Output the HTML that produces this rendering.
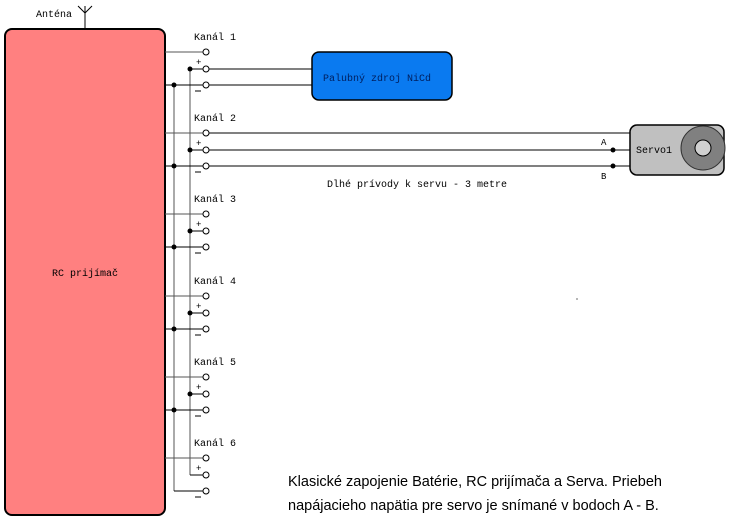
<!DOCTYPE html>
<html><head><style>body{margin:0;background:#fff}svg{display:block}</style></head><body>
<svg width="740" height="530" viewBox="0 0 740 530" xmlns="http://www.w3.org/2000/svg">
<rect width="740" height="530" fill="#fff"/>
<line x1="85" y1="6" x2="85" y2="29" stroke="#000"/>
<polyline points="78,6 85,13 92,6" fill="none" stroke="#000"/>
<text x="36" y="17" font-family="Liberation Mono,monospace" font-size="10">Anténa</text>
<rect x="5" y="29" width="160" height="486" rx="7" fill="#ff8080" stroke="#000" stroke-width="2"/>
<text x="52" y="276" font-family="Liberation Mono,monospace" font-size="10">RC prijímač</text>
<line x1="190" y1="69" x2="190" y2="475" stroke="#555"/>
<line x1="174" y1="85" x2="174" y2="491" stroke="#555"/>
<g font-family="Liberation Mono,monospace" font-size="10">
<text x="194" y="40">Kanál 1</text><text x="194" y="121">Kanál 2</text><text x="194" y="202">Kanál 3</text>
<text x="194" y="284">Kanál 4</text><text x="194" y="365">Kanál 5</text><text x="194" y="446">Kanál 6</text>
</g>
<g stroke="#555">
<line x1="165" y1="52" x2="203" y2="52"/><line x1="165" y1="133" x2="203" y2="133"/><line x1="165" y1="214" x2="203" y2="214"/>
<line x1="165" y1="296" x2="203" y2="296"/><line x1="165" y1="377" x2="203" y2="377"/><line x1="165" y1="458" x2="203" y2="458"/>
</g>
<g stroke="#000">
<line x1="190" y1="69" x2="203" y2="69"/><line x1="190" y1="150" x2="203" y2="150"/><line x1="190" y1="231" x2="203" y2="231"/>
<line x1="190" y1="313" x2="203" y2="313"/><line x1="190" y1="394" x2="203" y2="394"/><line x1="190" y1="475" x2="203" y2="475"/>
<line x1="165" y1="85" x2="203" y2="85"/><line x1="165" y1="166" x2="203" y2="166"/><line x1="165" y1="247" x2="203" y2="247"/>
<line x1="165" y1="329" x2="203" y2="329"/><line x1="165" y1="410" x2="203" y2="410"/><line x1="174" y1="491" x2="203" y2="491"/>
<line x1="195" y1="91" x2="201" y2="91"/><line x1="195" y1="172" x2="201" y2="172"/><line x1="195" y1="253" x2="201" y2="253"/>
<line x1="195" y1="335" x2="201" y2="335"/><line x1="195" y1="416" x2="201" y2="416"/><line x1="195" y1="497" x2="201" y2="497"/>
</g>
<g font-family="Liberation Mono,monospace" font-size="9">
<text x="196" y="65">+</text><text x="196" y="146">+</text><text x="196" y="227">+</text>
<text x="196" y="309">+</text><text x="196" y="390">+</text><text x="196" y="471">+</text>
</g>
<g fill="#fff" stroke="#000">
<circle cx="206" cy="52" r="3"/><circle cx="206" cy="69" r="3"/><circle cx="206" cy="85" r="3"/>
<circle cx="206" cy="133" r="3"/><circle cx="206" cy="150" r="3"/><circle cx="206" cy="166" r="3"/>
<circle cx="206" cy="214" r="3"/><circle cx="206" cy="231" r="3"/><circle cx="206" cy="247" r="3"/>
<circle cx="206" cy="296" r="3"/><circle cx="206" cy="313" r="3"/><circle cx="206" cy="329" r="3"/>
<circle cx="206" cy="377" r="3"/><circle cx="206" cy="394" r="3"/><circle cx="206" cy="410" r="3"/>
<circle cx="206" cy="458" r="3"/><circle cx="206" cy="475" r="3"/><circle cx="206" cy="491" r="3"/>
</g>
<g>
<circle cx="190" cy="69" r="2.5"/><circle cx="174" cy="85" r="2.5"/>
<circle cx="190" cy="150" r="2.5"/><circle cx="174" cy="166" r="2.5"/>
<circle cx="190" cy="231" r="2.5"/><circle cx="174" cy="247" r="2.5"/>
<circle cx="190" cy="313" r="2.5"/><circle cx="174" cy="329" r="2.5"/>
<circle cx="190" cy="394" r="2.5"/><circle cx="174" cy="410" r="2.5"/>
</g>
<line x1="209" y1="69" x2="312" y2="69" stroke="#000"/>
<line x1="209" y1="85" x2="312" y2="85" stroke="#000"/>
<rect x="312" y="52" width="140" height="48" rx="7" fill="#0a7af0" stroke="#000" stroke-width="1.5"/>
<text x="323" y="81" font-family="Liberation Mono,monospace" font-size="10" fill="#002060">Palubný zdroj NiCd</text>
<line x1="209" y1="133" x2="630" y2="133" stroke="#000"/>
<line x1="209" y1="150" x2="630" y2="150" stroke="#000"/>
<line x1="209" y1="166" x2="630" y2="166" stroke="#000"/>
<circle cx="613" cy="150" r="2.5"/><circle cx="613" cy="166" r="2.5"/>
<text x="601" y="145" font-family="Liberation Mono,monospace" font-size="9">A</text>
<text x="601" y="179" font-family="Liberation Mono,monospace" font-size="9">B</text>
<text x="327" y="187" font-family="Liberation Mono,monospace" font-size="10">Dlhé prívody k servu - 3 metre</text>
<rect x="630" y="125" width="94" height="50" rx="7" fill="#c0c0c0" stroke="#000" stroke-width="1.5"/>
<text x="636" y="153" font-family="Liberation Mono,monospace" font-size="10">Servo1</text>
<circle cx="703" cy="148" r="22" fill="#808080" stroke="#333"/>
<circle cx="703" cy="148" r="8" fill="#d0d0d0" stroke="#000"/>
<circle cx="577" cy="299" r="0.6" fill="#000"/>
<text x="288" y="486" font-family="Liberation Sans,sans-serif" font-size="14.5">Klasické zapojenie Batérie, RC prijímača a Serva. Priebeh</text>
<text x="288" y="510" font-family="Liberation Sans,sans-serif" font-size="14.5">napájacieho napätia pre servo je snímané v bodoch A - B.</text>
</svg>
</body></html>
